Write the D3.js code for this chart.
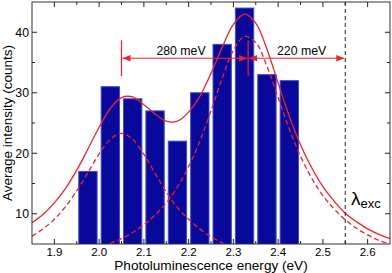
<!DOCTYPE html>
<html><head><meta charset="utf-8">
<script src="https://cdn.jsdelivr.net/npm/d3@7/dist/d3.min.js"></script>
<style>body{margin:0;background:#fff}svg{display:block}</style>
</head><body>
<script>
// ---- data ----
const binCenters = [1.975, 2.025, 2.075, 2.125, 2.175, 2.225, 2.275, 2.325, 2.375, 2.425];
const counts     = [17, 31, 29, 27, 22, 30, 38, 44, 33, 32];

const fitEnergy = [1.850,1.875,1.900,1.925,1.950,1.975,2.000,2.025,2.050,2.075,2.100,2.125,2.150,2.175,2.200,2.225,2.250,2.275,2.300,2.325,2.350,2.375,2.400,2.425,2.450,2.475,2.500,2.525,2.550,2.575,2.600,2.625,2.650];
const totalFit  = [8.5,9.9,11.8,14.2,17.2,20.7,24.3,27.4,29.2,29.3,28.0,26.5,25.3,25.3,26.8,29.4,33.2,37.5,41.3,43.0,41.5,37.2,31.6,26.1,21.4,17.6,14.5,12.1,10.1,8.7,7.5,6.6,5.9];
const peakLowFit  = [6.3,7.5,9.1,11.2,13.8,16.8,19.9,22.3,23.3,22.3,19.8,16.7,13.6,11.0,9.1,7.5,6.2,5.2,4.4,3.7,3.2,2.8,2.5,2.2,1.9,1.7,1.6,1.4,1.3,1.2,1.1,1.0,0.9];
const peakHighFit = [2.2,2.5,2.8,3.1,3.5,3.9,4.5,5.1,5.9,6.9,8.2,9.8,11.8,14.4,17.8,22.0,27.0,32.4,37.0,39.3,38.3,34.4,29.2,24.0,19.5,15.9,13.0,10.8,9.0,7.6,6.5,5.6,5.0];

const xTickValues = [1.9, 2.0, 2.1, 2.2, 2.3, 2.4, 2.5, 2.6];
const xTickLabels = ["1.9", "2.0", "2.1", "2.2", "2.3", "2.4", "2.5", "2.6"];
const xMinorTicks = [1.95, 2.05, 2.15, 2.25, 2.35, 2.45, 2.55];
const yTickValues = [10, 20, 30, 40];
const yTickLabels = ["10", "20", "30", "40"];
const yMinorTicks = [15, 25, 35];

const peakMarkers = [2.05, 2.333];          // vertical red markers
const excitationEnergy = 2.55;              // dashed line
const gapSpans = [[2.05, 2.333], [2.333, 2.55]];
const gapLabels = ["280 meV", "220 meV"];
const gapLabelX = [2.183, 2.4525];
const arrowLevel = 35.7;

// ---- layout ----
const W = 392, H = 273;
const L = 32, R = 390, T = 2, B = 244;
const RED = "#f2202c";
const FONT = "'Liberation Sans', Arial, Helvetica, sans-serif";

const svg = d3.select("body").append("svg").attr("width", W).attr("height", H);
const x = d3.scaleLinear().domain([1.85, 2.65]).range([L, R]);
const y = d3.scaleLinear().domain([5, 45]).range([B, T]);

svg.append("defs").append("clipPath").attr("id", "clip")
  .append("rect").attr("x", L).attr("y", T).attr("width", R - L).attr("height", B - T);

const plot = svg.append("g").attr("clip-path", "url(#clip)");

// bars
const halfW = 0.0205;
plot.selectAll("rect.bar").data(binCenters).join("rect")
  .attr("class", "bar")
  .attr("x", (d) => x(d - halfW))
  .attr("width", (d) => x(d + halfW) - x(d - halfW))
  .attr("y", (d, i) => y(counts[i]))
  .attr("height", (d, i) => B + 2 - y(counts[i]))
  .attr("fill", "#08089a")
  .attr("stroke", "#3f4fd0")
  .attr("stroke-width", 1);

// curves
const line = (vals) => d3.line().x((d, i) => x(fitEnergy[i])).y((d) => y(d)).curve(d3.curveCatmullRom)(vals);
plot.append("path").attr("d", line(peakLowFit)).attr("fill", "none").attr("stroke", RED)
  .attr("stroke-width", 1.3).attr("stroke-dasharray", "5,3");
plot.append("path").attr("d", line(peakHighFit)).attr("fill", "none").attr("stroke", RED)
  .attr("stroke-width", 1.3).attr("stroke-dasharray", "5,3");
plot.append("path").attr("d", line(totalFit)).attr("fill", "none").attr("stroke", RED)
  .attr("stroke-width", 1.3);

// excitation line
plot.append("line").attr("x1", x(excitationEnergy)).attr("x2", x(excitationEnergy))
  .attr("y1", T).attr("y2", B).attr("stroke", "#222").attr("stroke-width", 1)
  .attr("stroke-dasharray", "4,3");

// markers and arrows
const ay = y(arrowLevel);
peakMarkers.forEach((e) => {
  svg.append("line").attr("x1", x(e)).attr("x2", x(e)).attr("y1", ay - 18).attr("y2", ay + 18)
    .attr("stroke", RED).attr("stroke-width", 1.2);
});
function head(tipX, dir) {
  const len = 8, hw = 3.2;
  svg.append("path")
    .attr("d", `M${tipX},${ay} L${tipX - dir * len},${ay - hw} L${tipX - dir * len},${ay + hw} Z`)
    .attr("fill", RED);
}
gapSpans.forEach((s, i) => {
  const x0 = x(s[0]) + 1, x1 = x(s[1]) - 1;
  svg.append("line").attr("x1", x0).attr("x2", x1).attr("y1", ay).attr("y2", ay)
    .attr("stroke", RED).attr("stroke-width", 1.2);
  head(x0, -1);
  head(x1, 1);
  svg.append("text").attr("x", x(gapLabelX[i])).attr("y", ay - 3.5)
    .attr("text-anchor", "middle").attr("font-family", FONT).attr("font-size", 12.3)
    .attr("fill", "#000").text(gapLabels[i]);
});

// lambda label
const lam = svg.append("text").attr("x", 351).attr("y", 205).attr("font-family", FONT).attr("fill", "#000");
lam.append("tspan").attr("font-size", 19).text("λ");
lam.append("tspan").attr("font-size", 13).attr("dy", 2.5).text("exc");

// frame
svg.append("rect").attr("x", L).attr("y", T).attr("width", R - L).attr("height", B - T)
  .attr("fill", "none").attr("stroke", "#333").attr("stroke-width", 1);

// ticks
const tickG = svg.append("g").attr("stroke", "#222").attr("stroke-width", 1);
function xt(v, len) {
  tickG.append("line").attr("x1", x(v)).attr("x2", x(v)).attr("y1", B).attr("y2", B - len);
  tickG.append("line").attr("x1", x(v)).attr("x2", x(v)).attr("y1", T).attr("y2", T + len);
}
function yt(v, len) {
  tickG.append("line").attr("x1", L).attr("x2", L + len).attr("y1", y(v)).attr("y2", y(v));
  tickG.append("line").attr("x1", R).attr("x2", R - len).attr("y1", y(v)).attr("y2", y(v));
}
xTickValues.forEach((v) => xt(v, 5));
xMinorTicks.forEach((v) => xt(v, 3));
yTickValues.forEach((v) => yt(v, 5));
yMinorTicks.forEach((v) => yt(v, 3));

// tick labels
svg.append("g").selectAll("text").data(xTickValues).join("text")
  .attr("x", (d) => x(d)).attr("y", 255.5).attr("text-anchor", "middle")
  .attr("font-family", FONT).attr("font-size", 11.5).attr("fill", "#000")
  .text((d, i) => xTickLabels[i]);
svg.append("g").selectAll("text").data(yTickValues).join("text")
  .attr("x", 29).attr("y", (d) => y(d)).attr("dy", "0.36em").attr("text-anchor", "end")
  .attr("font-family", FONT).attr("font-size", 12.3).attr("fill", "#000")
  .text((d, i) => yTickLabels[i]);

// axis titles
svg.append("text").attr("x", 211).attr("y", 269.5).attr("text-anchor", "middle")
  .attr("font-family", FONT).attr("font-size", 13.6).attr("fill", "#000")
  .text("Photoluminescence energy (eV)");
svg.append("text").attr("transform", `translate(12,${(T + B) / 2}) rotate(-90)`)
  .attr("text-anchor", "middle").attr("font-family", FONT).attr("font-size", 13.5).attr("fill", "#000")
  .text("Average intensity (counts)");
</script>
</body></html>
